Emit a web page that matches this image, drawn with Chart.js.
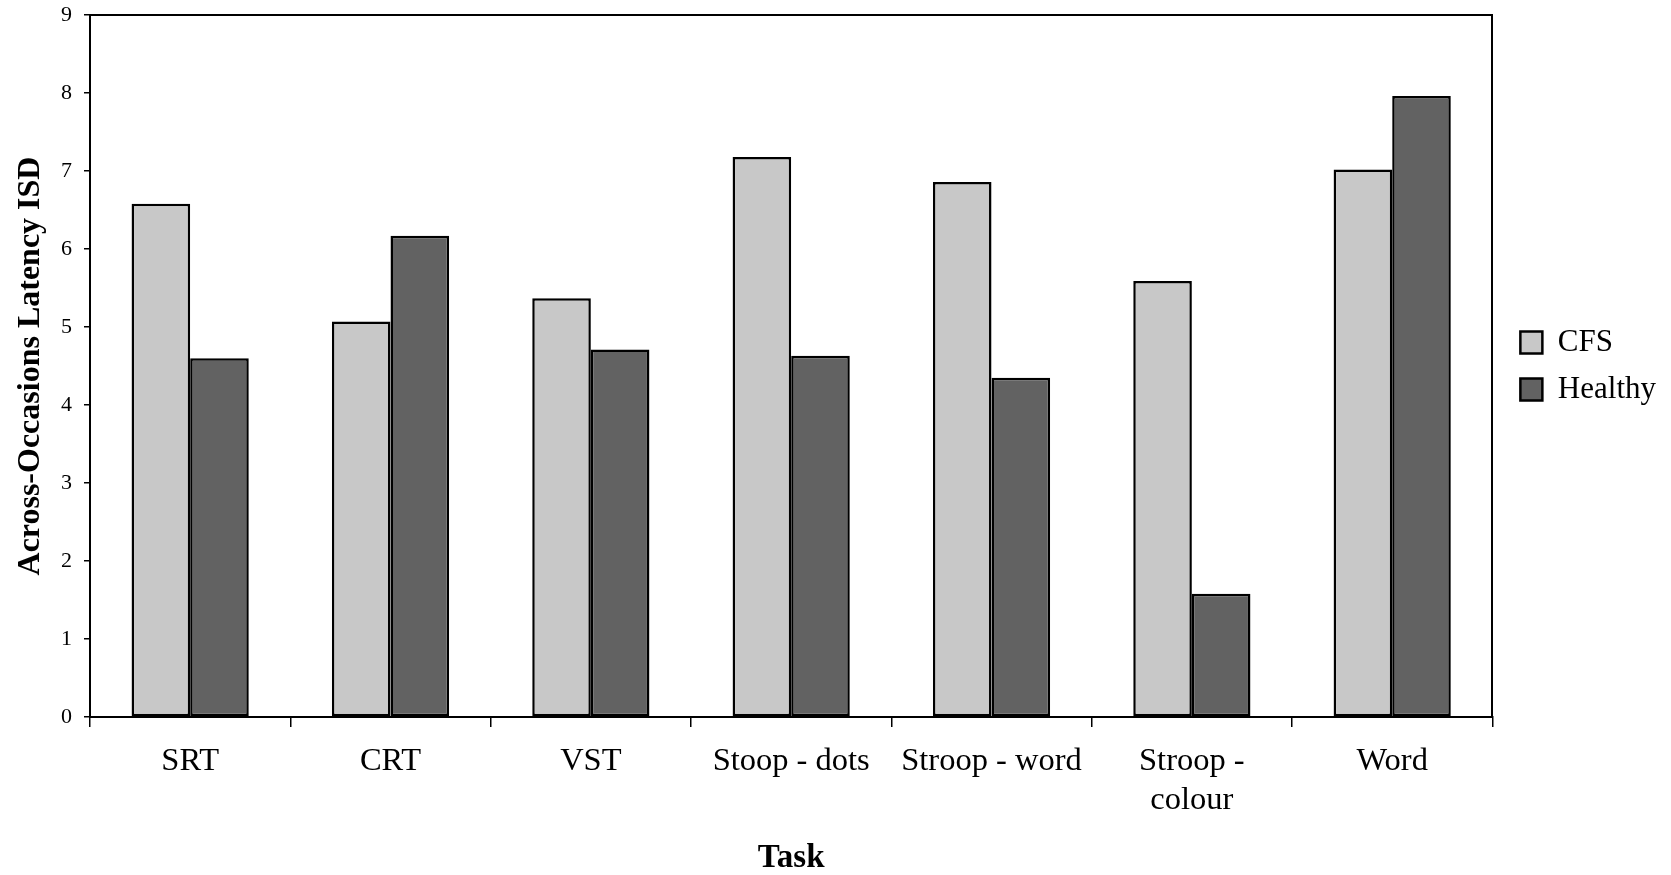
<!DOCTYPE html>
<html>
<head>
<meta charset="utf-8">
<script src="https://cdn.jsdelivr.net/npm/chart.js@4/dist/chart.umd.min.js"></script>
<style>
  html, body { margin: 0; padding: 0; background: #fff; }
  #wrap { width: 1671px; height: 875px; }
</style>
</head>
<body>
<div id="wrap"><canvas id="chart" width="1671" height="875"></canvas></div>
<script>
const tasks = ['SRT', 'CRT', 'VST', 'Stoop - dots', 'Stroop - word', ['Stroop -', 'colour'], 'Word'];
const cfsValues = [6.58, 5.07, 5.37, 7.18, 6.86, 5.59, 7.02];
const healthyValues = [4.60, 6.17, 4.71, 4.63, 4.35, 1.58, 7.96];
const yTicks = [0, 1, 2, 3, 4, 5, 6, 7, 8, 9];

const serif = '"Liberation Serif", "Times New Roman", serif';

new Chart(document.getElementById('chart'), {
  type: 'bar',
  data: {
    labels: tasks,
    datasets: [
      {
        label: 'CFS',
        data: cfsValues,
        backgroundColor: '#c8c8c8',
        borderColor: '#000',
        borderWidth: 2.5,
        borderSkipped: false,
      },
      {
        label: 'Healthy',
        data: healthyValues,
        backgroundColor: '#626262',
        borderColor: '#000',
        borderWidth: 2.5,
        borderSkipped: false,
      },
    ],
  },
  options: {
    responsive: false,
    animation: false,
    datasets: {
      bar: { categoryPercentage: 0.585, barPercentage: 1 },
    },
    layout: { autoPadding: false, padding: { left: 0, right: 5, top: 15, bottom: 0 } },
    plugins: {
      tooltip: { enabled: false },
      legend: {
        position: 'right',
        align: 'center',
        fullSize: false,
        labels: {
          color: '#000',
          font: { family: serif, size: 31 },
          boxWidth: 22,
          boxHeight: 22,
          padding: 16,
        },
      },
    },
    scales: {
      x: {
        position: 'bottom',
        afterFit: (scale) => { scale.height = 158; },
        grid: { display: true, drawOnChartArea: false, color: '#000', lineWidth: 1.5, tickLength: 10, offset: true },
        border: { display: true, color: '#000', width: 2 },
        ticks: { color: '#000', padding: 14, maxRotation: 0, autoSkip: false, font: { family: serif, size: 32.5, lineHeight: 1.23 } },
        title: { display: true, text: 'Task', color: '#000', font: { family: serif, size: 33, weight: 'bold', lineHeight: 1.0 }, padding: { top: 0, bottom: 0 } },
      },
      x2: {
        type: 'linear',
        position: 'top',
        min: 0,
        max: 1,
        afterFit: (scale) => { scale.height = 0; },
        grid: { display: false, drawTicks: false, tickLength: 0 },
        ticks: { display: false, padding: 0 },
        border: { display: true, color: '#000', width: 2 },
      },
      y: {
        min: 0,
        max: 9,
        afterFit: (scale) => { scale.width = 90; },
        afterBuildTicks: (scale) => { scale.ticks = yTicks.map(v => ({ value: v })); },
        grid: { display: true, drawOnChartArea: false, color: '#000', lineWidth: 1.5, tickLength: 6 },
        border: { display: true, color: '#000', width: 2 },
        ticks: { color: '#000', padding: 12, font: { family: serif, size: 22, lineHeight: 0.2 } },
        title: { display: true, text: 'Across-Occasions Latency ISD', color: '#000', font: { family: serif, size: 32, weight: 'bold', lineHeight: 1.2 }, padding: { top: 12, bottom: 0 } },
      },
      y2: {
        type: 'linear',
        position: 'right',
        min: 0,
        max: 1,
        afterFit: (scale) => { scale.width = 12; },
        grid: { display: false, drawTicks: false, tickLength: 0 },
        ticks: { display: false, padding: 0 },
        border: { display: true, color: '#000', width: 2 },
      },
    },
  },
});
</script>
</body>
</html>
